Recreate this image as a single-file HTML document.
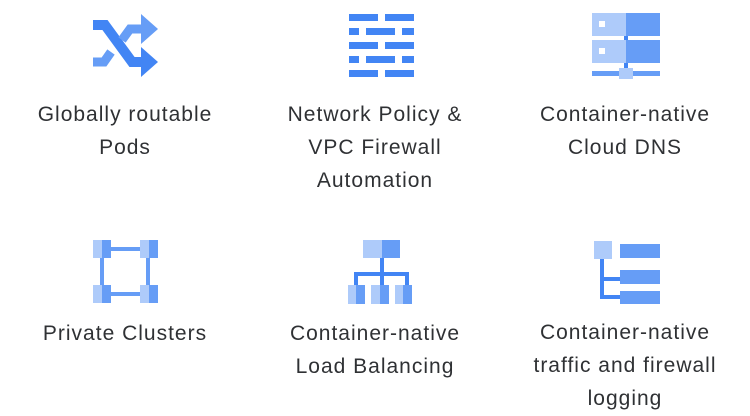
<!DOCTYPE html>
<html><head><style>
body{margin:0;background:#fff;width:750px;height:416px;overflow:hidden;position:relative;font-family:"Liberation Sans",sans-serif;}
.t{position:absolute;width:250px;text-align:center;font-size:21px;letter-spacing:1px;line-height:33px;color:#2f3134;}
svg{position:absolute;left:0;top:0}
</style></head><body>
<svg width="750" height="416">
<g fill="none" stroke-linejoin="miter">
<polyline points="93,25 105,25 132,62 145,62" stroke="#4285f4" stroke-width="10"/>
<polygon points="141,47 158,62 141,77" fill="#4285f4"/>
<polyline points="122,40 130,29 145,29" stroke="#669df6" stroke-width="9"/>
<polygon points="141,14 158,29 141,44" fill="#669df6"/>
<polyline points="93,62 104,62 111,52" stroke="#669df6" stroke-width="9"/>
</g>
<g fill="#4285f4">
<rect x="349" y="14" width="29" height="7"/><rect x="385" y="14" width="29" height="7"/>
<rect x="349" y="28" width="10" height="7"/><rect x="366" y="28" width="29" height="7"/><rect x="402" y="28" width="12" height="7"/>
<rect x="349" y="42" width="29" height="7"/><rect x="385" y="42" width="29" height="7"/>
<rect x="349" y="56" width="10" height="7"/><rect x="366" y="56" width="29" height="7"/><rect x="402" y="56" width="12" height="7"/>
<rect x="349" y="70" width="29" height="7"/><rect x="385" y="70" width="29" height="7"/>
</g>
<rect x="592" y="13" width="34" height="23" fill="#aecbfa"/><rect x="626" y="13" width="34" height="23" fill="#669df6"/>
<rect x="592" y="40" width="34" height="23" fill="#aecbfa"/><rect x="626" y="40" width="34" height="23" fill="#669df6"/>
<rect x="599" y="21" width="6" height="6" fill="#fff"/><rect x="599" y="48" width="6" height="6" fill="#fff"/>
<rect x="624" y="36" width="4" height="4" fill="#4285f4"/><rect x="624" y="63" width="4" height="6" fill="#4285f4"/>
<rect x="592" y="71" width="68" height="5" fill="#669df6"/><rect x="619" y="68" width="14" height="11" fill="#aecbfa"/>
<g stroke="#669df6" stroke-width="4" fill="none">
<line x1="110" y1="249" x2="142" y2="249"/><line x1="110" y1="294" x2="142" y2="294"/>
<line x1="102" y1="256" x2="102" y2="287"/><line x1="148" y1="256" x2="148" y2="287"/>
</g>
<g>
<rect x="93" y="240" width="9" height="18" fill="#aecbfa"/><rect x="102" y="240" width="9" height="18" fill="#669df6"/>
<rect x="140" y="240" width="9" height="18" fill="#aecbfa"/><rect x="149" y="240" width="9" height="18" fill="#669df6"/>
<rect x="93" y="285" width="9" height="18" fill="#aecbfa"/><rect x="102" y="285" width="9" height="18" fill="#669df6"/>
<rect x="140" y="285" width="9" height="18" fill="#aecbfa"/><rect x="149" y="285" width="9" height="18" fill="#669df6"/>
</g>
<rect x="363" y="240" width="19" height="18" fill="#aecbfa"/><rect x="382" y="240" width="18" height="18" fill="#669df6"/>
<g stroke="#4285f4" stroke-width="4" fill="none">
<line x1="382" y1="258" x2="382" y2="274"/>
<polyline points="356,287 356,274 407,274 407,287"/>
<line x1="382" y1="274" x2="382" y2="287"/>
</g>
<rect x="348" y="285" width="8" height="19" fill="#aecbfa"/><rect x="356" y="285" width="9" height="19" fill="#669df6"/>
<rect x="371" y="285" width="9" height="19" fill="#aecbfa"/><rect x="380" y="285" width="9" height="19" fill="#669df6"/>
<rect x="395" y="285" width="8" height="19" fill="#aecbfa"/><rect x="403" y="285" width="9" height="19" fill="#669df6"/>
<rect x="594" y="241" width="18" height="18" fill="#aecbfa"/>
<g stroke="#4285f4" stroke-width="4" fill="none"><polyline points="602,259 602,297 622,297"/><line x1="602" y1="279" x2="622" y2="279"/></g>
<rect x="620" y="244" width="40" height="14" fill="#669df6"/>
<rect x="620" y="270" width="40" height="14" fill="#669df6"/>
<rect x="620" y="291" width="40" height="13" fill="#669df6"/>
</svg>
<div class="t" style="left:0;top:98px">Globally routable<br>Pods</div>
<div class="t" style="left:250px;top:98px">Network Policy &amp;<br>VPC Firewall<br>Automation</div>
<div class="t" style="left:500px;top:98px">Container-native<br>Cloud DNS</div>
<div class="t" style="left:0;top:317px">Private Clusters</div>
<div class="t" style="left:250px;top:317px">Container-native<br>Load Balancing</div>
<div class="t" style="left:500px;top:316px">Container-native<br>traffic and firewall<br>logging</div>
</body></html>
